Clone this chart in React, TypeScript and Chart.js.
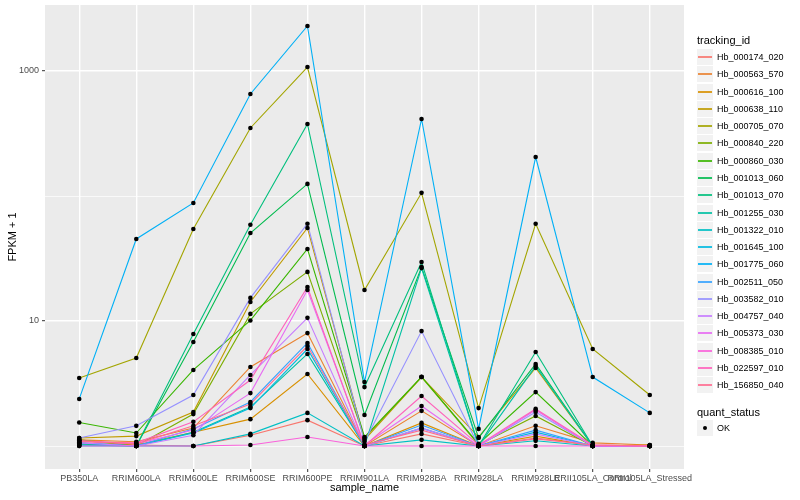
import React, { useEffect, useRef } from 'react';
import { Chart, registerables } from 'chart.js';

Chart.register(...registerables);

// ---- data ----
const sampleNames = [
  'PB350LA', 'RRIM600LA', 'RRIM600LE', 'RRIM600SE', 'RRIM600PE', 'RRIM901LA',
  'RRIM928BA', 'RRIM928LA', 'RRIM928LE', 'RRII105LA_Control', 'RRII105LA_Stressed',
];

const trackingIds = [
  'Hb_000174_020', 'Hb_000563_570', 'Hb_000616_100', 'Hb_000638_110', 'Hb_000705_070',
  'Hb_000840_220', 'Hb_000860_030', 'Hb_001013_060', 'Hb_001013_070', 'Hb_001255_030',
  'Hb_001322_010', 'Hb_001645_100', 'Hb_001775_060', 'Hb_002511_050', 'Hb_003582_010',
  'Hb_004757_040', 'Hb_005373_030', 'Hb_008385_010', 'Hb_022597_010', 'Hb_156850_040',
];

const trackingColors = [
  '#F8766D', '#EA8331', '#D89000', '#C09B00', '#A3A500', '#7CAE00', '#39B600', '#00BB4E',
  '#00BF7D', '#00C1A3', '#00BFC4', '#00BAE0', '#00B0F6', '#35A2FF', '#9590FF', '#C77CFF',
  '#E76BF3', '#FA62DB', '#FF62BC', '#FF6C91',
];

// FPKM + 1 per sample (order of sampleNames)
const hb000174_020 = [1.04, 1.02, 1.0, 1.22, 1.61, 1.0, 1.25, 1.0, 1.16, 1.02, 1.0];
const hb000563_570 = [1.12, 1.08, 1.39, 4.29, 8.0, 1.0, 1.91, 1.0, 1.45, 1.06, 1.02];
const hb000616_100 = [1.1, 1.02, 1.29, 1.64, 3.77, 1.0, 1.53, 1.0, 1.2, 1.0, 1.02];
const hb000638_110 = [1.16, 1.2, 1.87, 14.2, 55.5, 1.12, 3.56, 1.18, 4.21, 1.0, 1.0];
const hb000705_070 = [3.5, 5.06, 54.5, 350, 1076, 17.7, 106, 2.01, 60, 5.97, 2.56];
const hb000840_220 = [1.12, 1.0, 1.8, 11.4, 24.7, 1.16, 3.56, 1.02, 1.74, 1.0, 1.0];
const hb000860_030 = [1.54, 1.27, 4.06, 10.1, 37.7, 1.18, 3.58, 1.04, 2.7, 1.0, 1.0];
const hb001013_060 = [1.04, 1.0, 6.8, 50.6, 125, 1.77, 27, 1.16, 4.53, 1.0, 1.0];
const hb001013_070 = [1.06, 1.0, 7.87, 58.9, 377, 2.96, 29.6, 1.0, 5.65, 1.0, 1.0];
const hb001255_030 = [1.02, 1.0, 1.29, 2.05, 5.45, 1.0, 26.5, 1.0, 4.36, 1.0, 1.0];
const hb001322_010 = [1.0, 1.0, 1.0, 1.25, 1.84, 1.0, 1.12, 1.0, 1.1, 1.0, 1.0];
const hb001645_100 = [1.02, 1.0, 1.27, 2.01, 5.97, 1.0, 1.39, 1.0, 1.29, 1.0, 1.0];
const hb001775_060 = [2.38, 45.3, 88, 655, 2291, 3.25, 413, 1.37, 205, 3.56, 1.84];
const hb002511_050 = [1.06, 1.0, 1.37, 2.25, 6.67, 1.0, 1.47, 1.0, 1.34, 1.0, 1.0];
const hb003582_010 = [1.16, 1.45, 2.56, 15.3, 60, 1.08, 8.3, 1.0, 1.87, 1.0, 1.0];
const hb004757_040 = [1.06, 1.0, 1.22, 3.7, 10.6, 1.0, 1.39, 1.0, 1.25, 1.0, 1.0];
const hb005373_030 = [1.1, 1.04, 1.34, 2.65, 17.7, 1.02, 2.09, 1.0, 1.94, 1.0, 1.0];
const hb008385_010 = [1.0, 1.0, 1.0, 1.02, 1.18, 1.0, 1.0, 1.0, 1.0, 1.0, 1.0];
const hb022597_010 = [1.08, 1.06, 1.56, 3.37, 18.7, 1.0, 2.51, 1.02, 1.98, 1.02, 1.0];
const hb156850_040 = [1.1, 1.04, 1.45, 2.17, 6.3, 1.02, 1.34, 1.0, 1.14, 1.02, 1.0];

const seriesValues = [
  hb000174_020, hb000563_570, hb000616_100, hb000638_110, hb000705_070,
  hb000840_220, hb000860_030, hb001013_060, hb001013_070, hb001255_030,
  hb001322_010, hb001645_100, hb001775_060, hb002511_050, hb003582_010,
  hb004757_040, hb005373_030, hb008385_010, hb022597_010, hb156850_040,
];

const yGridValues = [1, 10, 100, 1000];
const yTickLabels = ['10', '1000'];
const quantStatus = ['OK'];

const FONT = "'Liberation Sans', Arial, Helvetica, sans-serif";

const panelBg = {
  id: 'panelBg',
  beforeDraw(chart: any) {
    const { ctx, chartArea } = chart;
    if (!chartArea) return;
    ctx.save();
    ctx.fillStyle = '#EBEBEB';
    ctx.fillRect(chartArea.left, chartArea.top, chartArea.right - chartArea.left, chartArea.bottom - chartArea.top);
    ctx.restore();
  },
};

export default function App() {
  const canvasRef = useRef<HTMLCanvasElement | null>(null);

  useEffect(() => {
    document.body.style.margin = '0';
    const canvas = canvasRef.current;
    if (!canvas) return;

    const lineSets = seriesValues.map((vals, i) => ({
      type: 'line' as const,
      label: trackingIds[i],
      data: vals.map((v, j) => ({ x: j, y: v })),
      borderColor: trackingColors[i],
      backgroundColor: trackingColors[i],
      borderWidth: 1.1,
      pointRadius: 0,
      tension: 0,
      fill: false,
      order: 100 - i,
    }));

    const pointSet = {
      type: 'scatter' as const,
      label: quantStatus[0],
      data: seriesValues.flatMap((vals) => vals.map((v, j) => ({ x: j, y: v }))),
      showLine: false,
      pointRadius: 2.3,
      pointBackgroundColor: '#000000',
      pointBorderWidth: 0,
      order: 0,
    };

    const majorY = yTickLabels.map(Number);

    const chart = new Chart(canvas, {
      type: 'line',
      data: { datasets: [...lineSets, pointSet] as any },
      plugins: [panelBg],
      options: {
        animation: false,
        responsive: false,
        events: [],
        layout: { padding: { top: 5, right: 116, bottom: 0, left: 0 } },
        plugins: { legend: { display: false }, tooltip: { enabled: false } },
        scales: {
          x: {
            type: 'linear',
            min: -0.6,
            max: 10.6,
            bounds: 'data',
            afterBuildTicks: (scale: any) => {
              scale.ticks = sampleNames.map((_, i) => ({ value: i }));
            },
            afterFit: (scale: any) => {
              scale.height = 31;
              scale.paddingLeft = 0;
              scale.paddingRight = 0;
            },
            grid: {
              color: '#FFFFFF',
              lineWidth: 1.4,
              tickColor: '#333333',
              tickLength: 3,
              tickWidth: 1,
            },
            border: { display: false },
            ticks: {
              autoSkip: false,
              maxRotation: 0,
              minRotation: 0,
              padding: 1,
              color: '#4D4D4D',
              font: { family: FONT, size: 9 },
              callback: (v: any) => sampleNames[Number(v)] ?? '',
            },
            title: {
              display: true,
              text: 'sample_name',
              color: '#000000',
              font: { family: FONT, size: 11 },
              padding: { top: 0, bottom: 5 },
            },
          },
          y: {
            type: 'logarithmic',
            min: Math.pow(10, -0.184),
            max: Math.pow(10, 3.528),
            bounds: 'data',
            afterBuildTicks: (scale: any) => {
              scale.ticks = yGridValues.map((v) => ({ value: v }));
            },
            afterFit: (scale: any) => {
              scale.width = 45;
              scale.paddingTop = 0;
              scale.paddingBottom = 0;
            },
            grid: {
              color: '#FFFFFF',
              lineWidth: (ctx: any) => (ctx.tick && majorY.includes(ctx.tick.value) ? 1.4 : 0.7),
              tickColor: (ctx: any) => (ctx.tick && majorY.includes(ctx.tick.value) ? '#333333' : 'rgba(0,0,0,0)'),
              tickLength: 3,
              tickWidth: 1,
            },
            border: { display: false },
            ticks: {
              padding: 3,
              color: '#4D4D4D',
              font: { family: FONT, size: 9 },
              callback: (v: any) => (majorY.includes(Number(v)) ? String(v) : ''),
            },
            title: {
              display: true,
              text: 'FPKM + 1',
              color: '#000000',
              font: { family: FONT, size: 11 },
              padding: { top: 6, bottom: 0 },
            },
          },
        },
      } as any,
    });

    return () => chart.destroy();
  }, []);

  const rowPitch = 17.28;
  const firstTop = 49;

  const textStyle = (left: number, center: number, size: number): React.CSSProperties => ({
    position: 'absolute',
    left,
    top: center - 8,
    height: 16,
    lineHeight: '16px',
    fontSize: size,
    fontFamily: FONT,
    color: '#000000',
    whiteSpace: 'nowrap',
  });

  return (
    <div style={{ position: 'relative', width: 800, height: 500, background: '#FFFFFF' }}>
      <canvas ref={canvasRef} width={800} height={500} style={{ display: 'block', width: 800, height: 500 }} />
      <div style={textStyle(697, 39.5, 11)}>tracking_id</div>
      {trackingIds.map((id, i) => {
        const top = Math.round(firstTop + i * rowPitch);
        return (
          <React.Fragment key={id}>
            <div style={{ position: 'absolute', left: 697, top, width: 16, height: 16, background: '#F2F2F2' }}>
              <div style={{ position: 'absolute', left: 1, width: 14, top: 7, height: 2, background: trackingColors[i], opacity: 0.85 }} />
            </div>
            <div style={textStyle(717, top + 8, 9)}>{id}</div>
          </React.Fragment>
        );
      })}
      <div style={textStyle(697, 411.5, 11)}>quant_status</div>
      <div style={{ position: 'absolute', left: 697, top: 420, width: 16, height: 16, background: '#F2F2F2' }}>
        <div style={{ position: 'absolute', left: 6, top: 6, width: 4, height: 4, borderRadius: 2, background: '#000000' }} />
      </div>
      <div style={textStyle(717, 428, 9)}>{quantStatus[0]}</div>
    </div>
  );
}
